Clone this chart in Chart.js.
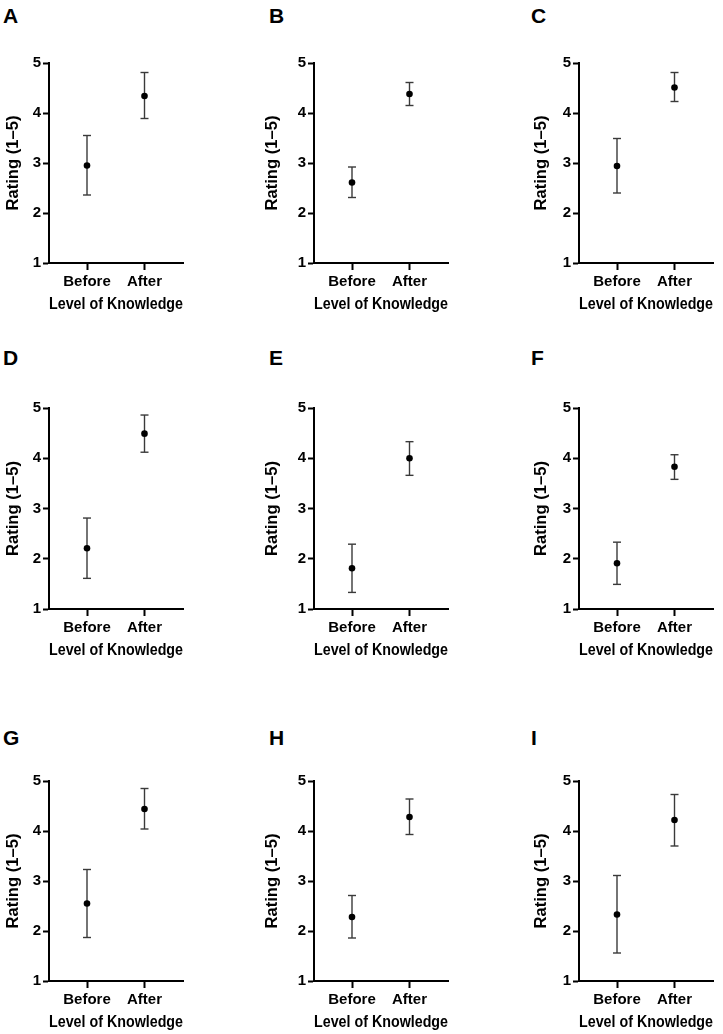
<!DOCTYPE html>
<html>
<head>
<meta charset="utf-8">
<script src="https://cdn.jsdelivr.net/npm/chart.js@4.4.1/dist/chart.umd.min.js"></script>
<style>
    body { margin: 0; background: #fff; }
    #page { position: relative; width: 723px; height: 1034px; overflow: hidden; }
    .panel { position: absolute; }
    .letter {
        position: absolute;
        font-family: 'Liberation Sans', Arial, sans-serif;
        font-weight: bold;
        font-size: 21px;
        line-height: 1;
        color: #000;
    }
</style>
</head>
<body>
<div id="page"></div>
<script>
const panels = ['A', 'B', 'C', 'D', 'E', 'F', 'G', 'H', 'I'];
const categories = ['Before', 'After'];
const yTicks = [1, 2, 3, 4, 5];

const meanBefore = [2.95, 2.61, 2.94, 2.21, 1.81, 1.91, 2.55, 2.28, 2.33];
const lowBefore = [2.36, 2.31, 2.40, 1.61, 1.33, 1.49, 1.87, 1.86, 1.56];
const highBefore = [3.55, 2.92, 3.49, 2.81, 2.29, 2.33, 3.23, 2.71, 3.11];

const meanAfter = [4.34, 4.38, 4.51, 4.49, 4.00, 3.83, 4.44, 4.28, 4.22];
const lowAfter = [3.89, 4.15, 4.23, 4.12, 3.66, 3.58, 4.04, 3.93, 3.70];
const highAfter = [4.81, 4.61, 4.81, 4.86, 4.33, 4.07, 4.85, 4.64, 4.73];

const yTitle = 'Rating (1\u20135)';
const xTitle = 'Level of Knowledge';

// layout of the 3x3 grid (pixels)
const axisX = [49, 314, 579];
const titleGap = [36, 42, 38];
const letterX = [3, 269, 531];
const plotTop = [63, 408, 781];
const plotBottom = [263, 609, 981];
const letterY = [5, 347, 727];

const YW = 52;      // width of y scale box
const XH = 56;      // height of x scale box
const PAD_TOP = 12;
const PAD_RIGHT = 10;
const PLOT_W = 134;
const X_TITLE_SIZE = 16.2;
const Y_TITLE_SIZE = 16.6;

const FONT = "'Liberation Sans', Arial, Helvetica, sans-serif";

buildPage();

function buildPage() {
    const page = document.getElementById('page');
    panels.forEach((name, i) => {
        const col = i % 3;
        const row = Math.floor(i / 3);

        const letter = document.createElement('div');
        letter.className = 'letter';
        letter.textContent = name;
        letter.style.left = letterX[col] + 'px';
        letter.style.top = letterY[row] + 'px';
        page.appendChild(letter);

        const w = YW + PLOT_W + PAD_RIGHT;
        const h = PAD_TOP + (plotBottom[row] - plotTop[row]) + XH;
        const box = document.createElement('div');
        box.className = 'panel';
        box.style.left = (axisX[col] - YW) + 'px';
        box.style.top = (plotTop[row] - PAD_TOP) + 'px';
        box.style.width = w + 'px';
        box.style.height = h + 'px';
        const canvas = document.createElement('canvas');
        canvas.width = w;
        canvas.height = h;
        box.appendChild(canvas);
        page.appendChild(box);

        generateChart(canvas, i, titleGap[col]);
    });
}

function errorBar(xIndex, low, high) {
    return {
        type: 'line',
        data: [{ x: xIndex + 1, y: low }, { x: xIndex + 1, y: high }],
        borderColor: '#3a3a3a',
        borderWidth: 1.4,
        pointStyle: 'line',
        pointRadius: 4,
        pointBorderColor: '#3a3a3a',
        pointBorderWidth: 1.4,
        pointBackgroundColor: '#3a3a3a',
        fill: false
    };
}

function generateChart(canvas, i, gap) {
    const means = {
        type: 'scatter',
        data: [
            { x: 1, y: meanBefore[i] },
            { x: 2, y: meanAfter[i] }
        ],
        pointRadius: 3.3,
        pointBackgroundColor: '#000',
        pointBorderColor: '#000',
        pointBorderWidth: 0
    };

    new Chart(canvas, {
        type: 'scatter',
        data: {
            datasets: [
                means,
                errorBar(0, lowBefore[i], highBefore[i]),
                errorBar(1, lowAfter[i], highAfter[i])
            ]
        },
        options: {
            responsive: false,
            animation: false,
            devicePixelRatio: 1,
            events: [],
            layout: { padding: { top: PAD_TOP, right: PAD_RIGHT, left: 0, bottom: 0 } },
            scales: {
                x: {
                    type: 'linear',
                    min: 1 - 38 / 57.5,
                    max: 2 + 38.5 / 57.5,
                    afterBuildTicks: (scale) => {
                        scale.ticks = categories.map((c, k) => ({ value: k + 1 }));
                    },
                    afterFit: (scale) => { scale.height = XH; },
                    ticks: {
                        callback: (v) => categories[v - 1],
                        color: '#000',
                        padding: 3,
                        maxRotation: 0,
                        font: { family: FONT, size: 15, weight: 'bold' }
                    },
                    grid: {
                        drawOnChartArea: false,
                        drawTicks: true,
                        tickLength: 7,
                        tickWidth: 2,
                        tickColor: '#000'
                    },
                    border: { display: true, color: '#000', width: 2 },
                    title: {
                        display: true,
                        text: xTitle,
                        color: '#000',
                        padding: { top: 0, bottom: XH - X_TITLE_SIZE * 0.6 - 42 },
                        font: { family: FONT, size: X_TITLE_SIZE, weight: 'bold' }
                    }
                },
                y: {
                    min: 1,
                    max: 5,
                    afterBuildTicks: (scale) => {
                        scale.ticks = yTicks.map(v => ({ value: v }));
                    },
                    afterFit: (scale) => { scale.width = YW; },
                    ticks: {
                        color: '#000',
                        padding: 2,
                        font: { family: FONT, size: 15, weight: 'bold' }
                    },
                    grid: {
                        drawOnChartArea: false,
                        drawTicks: true,
                        tickLength: 6,
                        tickWidth: 2,
                        tickColor: '#000'
                    },
                    border: { display: true, color: '#000', width: 2 },
                    title: {
                        display: true,
                        text: yTitle,
                        color: '#000',
                        padding: { top: YW - gap - Y_TITLE_SIZE * 0.6, bottom: 0 },
                        font: { family: FONT, size: Y_TITLE_SIZE, weight: 'bold' }
                    }
                }
            },
            plugins: {
                legend: { display: false },
                tooltip: { enabled: false }
            }
        }
    });
}
</script>
</body>
</html>
